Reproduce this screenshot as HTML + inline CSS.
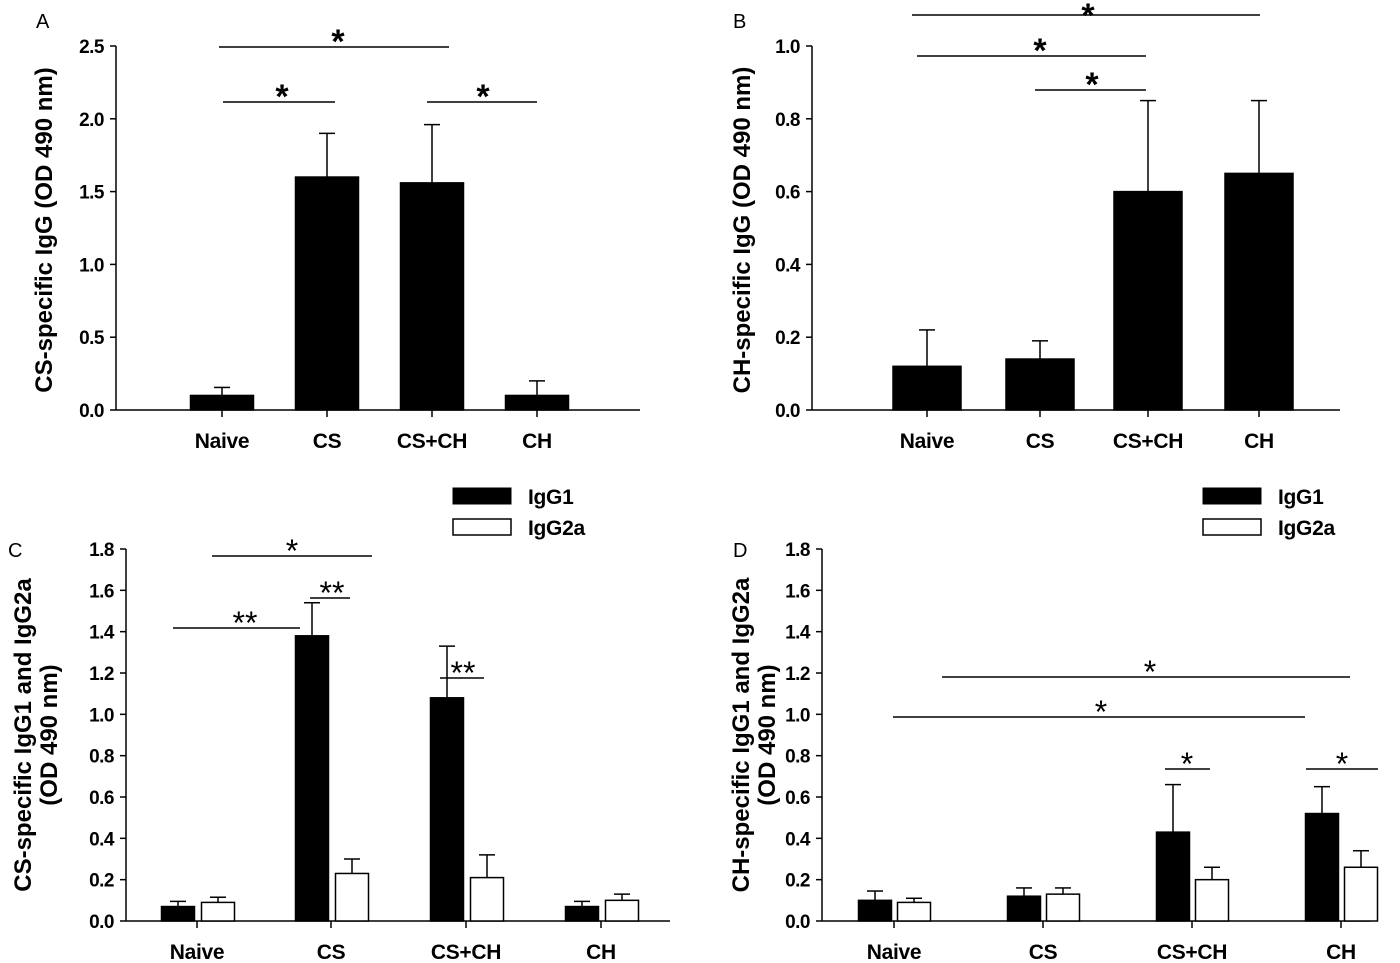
<!DOCTYPE html>
<html><head><meta charset="utf-8"><style>
html,body{margin:0;padding:0;background:#fff;}
svg{display:block;font-family:"Liberation Sans",Arial,sans-serif;}
.tick{font-size:19px;font-weight:bold;letter-spacing:-0.5px;}
.lab{font-size:21px;font-weight:bold;letter-spacing:-0.3px;}
.ttl{font-size:24px;font-weight:bold;}
.pl{font-size:20px;}
</style></head><body>
<svg id="fig" width="1400" height="963" viewBox="0 0 1400 963" xmlns="http://www.w3.org/2000/svg"></svg>
<script>
const categories = ["Naive","CS","CS+CH","CH"];
const aValues = [0.10,1.60,1.56,0.10];
const aErrors = [0.055,0.30,0.40,0.10];
const aTicks = ["0.0","0.5","1.0","1.5","2.0","2.5"];
const bValues = [0.12,0.14,0.60,0.65];
const bErrors = [0.10,0.05,0.25,0.20];
const bTicks = ["0.0","0.2","0.4","0.6","0.8","1.0"];
const cIgG1 = [0.07,1.38,1.08,0.07];
const cIgG1Err = [0.025,0.16,0.25,0.025];
const cIgG2a = [0.09,0.23,0.21,0.10];
const cIgG2aErr = [0.025,0.07,0.11,0.03];
const dIgG1 = [0.10,0.12,0.43,0.52];
const dIgG1Err = [0.045,0.04,0.23,0.13];
const dIgG2a = [0.09,0.13,0.20,0.26];
const dIgG2aErr = [0.02,0.03,0.06,0.08];
const cdTicks = ["0.0","0.2","0.4","0.6","0.8","1.0","1.2","1.4","1.6","1.8"];

const NS="http://www.w3.org/2000/svg";
const svg=document.getElementById('fig');
function el(tag,attrs,parent,text){const e=document.createElementNS(NS,tag);for(const k in attrs)e.setAttribute(k,attrs[k]);if(text!==undefined)e.textContent=text;(parent||svg).appendChild(e);return e;}

function panel(p){
  const g=el('g',{});
  
  
  const ymax=parseFloat(p.ticks[p.ticks.length-1]);
  const Y=v=>p.y0-(v/ymax)*(p.y0-p.ytop);
  const ya=el('line',{x1:p.x0,y1:p.ytop,x2:p.x0,y2:p.y0,stroke:'#000','stroke-width':1.5},g);
  
  const xa=el('line',{x1:p.x0,y1:p.y0,x2:p.x1,y2:p.y0,stroke:'#000','stroke-width':1.5},g);
  
  p.ticks.forEach(t=>{const v=parseFloat(t);const y=Y(v);
    el('line',{x1:p.x0-6,y1:y,x2:p.x0,y2:y,stroke:'#000','stroke-width':1.5},g);
    const tx=el('text',{x:p.x0-12,y:y+7,'text-anchor':'end',class:'tick'},g,t);
    
  });
  categories.forEach((c,i)=>{const cx=p.centers[i];
    el('line',{x1:cx,y1:p.y0,x2:cx,y2:p.y0+7,stroke:'#000','stroke-width':1.5},g);
    const tx=el('text',{x:cx,y:p.y0+38,'text-anchor':'middle',class:'lab'},g,c);
    
  });
  p.series.forEach((s,si)=>{
    s.values.forEach((v,i)=>{
      const cx=p.centers[i]+s.offset;const x=cx-p.bw/2;
      const top=Y(v), etop=Y(v+s.errors[i]);
      const er=el('line',{x1:cx,y1:top,x2:cx,y2:etop,stroke:'#000','stroke-width':1.5},g);
      
      el('line',{x1:cx-8,y1:etop,x2:cx+8,y2:etop,stroke:'#000','stroke-width':1.5},g);
      const r=el('rect',{x:x,y:top,width:p.bw,height:p.y0-top,fill:s.fill,stroke:'#000','stroke-width':1.5},g);
      
      
    });
  });
  p.sig.forEach(s=>{
    const l=el('line',{x1:s[0],y1:s[2],x2:s[1],y2:s[2],stroke:'#000','stroke-width':1.5},g);
    
    const off=s[5]!==undefined?s[5]:6;
    const t=el('text',{x:s[3],y:s[2]+off,'text-anchor':'middle','font-size':p.bold?34:32,'font-weight':p.bold?'bold':'normal'},g,s[4]);
    
  });
  const pl=el('text',{x:p.letter[0],y:p.letter[1],class:'pl'},g,p.letter[2]);
  
  p.title.forEach((t,k)=>{
    const tt=el('text',{x:0,y:0,'text-anchor':'middle',class:'ttl',transform:`translate(${t[0]},${p.tcy}) rotate(-90)`},g,t[1]);
    
  });
  if(p.legend){const lx=p.legend[0],ly=p.legend[1];
    const a=el('rect',{x:lx,y:ly,width:58,height:16,fill:'#000',stroke:'#000'},g);
    
    const at=el('text',{x:lx+75,y:ly+16,class:'lab'},g,'IgG1');
    
    const b=el('rect',{x:lx,y:ly+31,width:58,height:16,fill:'#fff',stroke:'#000','stroke-width':1.5},g);
    
    const bt=el('text',{x:lx+75,y:ly+47,class:'lab'},g,'IgG2a');
    
  }
}

panel({name:'panel-a',x0:116,x1:640,y0:410,ytop:46,ticks:aTicks,centers:[222,327,432,537],bw:63,
  series:[{key:'igg',values:aValues,errors:aErrors,fill:'#000',offset:0}],bold:true,
  sig:[[219,449,47,338,'*'],[223,335,102,282,'*'],[427,537,102,483,'*']],
  letter:[36,28,'A'],tcy:230,title:[[52,'CS-specific IgG (OD 490 nm)']]});
panel({name:'panel-b',x0:812,x1:1340,y0:410,ytop:46,ticks:bTicks,centers:[927,1040,1148,1259],bw:68,
  series:[{key:'igg',values:bValues,errors:bErrors,fill:'#000',offset:0}],bold:true,
  sig:[[912,1260,15,1088,'*',12],[917,1146,56,1040,'*'],[1035,1146,90,1092,'*']],
  letter:[733,28,'B'],tcy:230,title:[[750,'CH-specific IgG (OD 490 nm)']]});
panel({name:'panel-c',x0:126,x1:670,y0:921,ytop:549,ticks:cdTicks,centers:[197,331,466,601],bw:33,
  series:[{key:'igg1',values:cIgG1,errors:cIgG1Err,fill:'#000',offset:-19},{key:'igg2a',values:cIgG2a,errors:cIgG2aErr,fill:'#fff',offset:21}],bold:false,
  sig:[[212,372,556,292,'*'],[173,300,628,245,'**'],[310,350,598,332,'**'],[440,484,678,463,'**']],
  letter:[8,557,'C'],tcy:735,legend:[453,488],title:[[31,'CS-specific IgG1 and IgG2a'],[57,'(OD 490 nm)']]});
panel({name:'panel-d',x0:822,x1:1370,y0:921,ytop:549,ticks:cdTicks,centers:[894,1043,1192,1341],bw:33,
  series:[{key:'igg1',values:dIgG1,errors:dIgG1Err,fill:'#000',offset:-19},{key:'igg2a',values:dIgG2a,errors:dIgG2aErr,fill:'#fff',offset:20}],bold:false,
  sig:[[942,1350,677,1150,'*'],[893,1305,717,1101,'*'],[1165,1210,769,1187,'*'],[1306,1378,769,1342,'*']],
  letter:[733,557,'D'],tcy:735,legend:[1203,488],title:[[749,'CH-specific IgG1 and IgG2a'],[775,'(OD 490 nm)']]});
</script>
</body></html>
